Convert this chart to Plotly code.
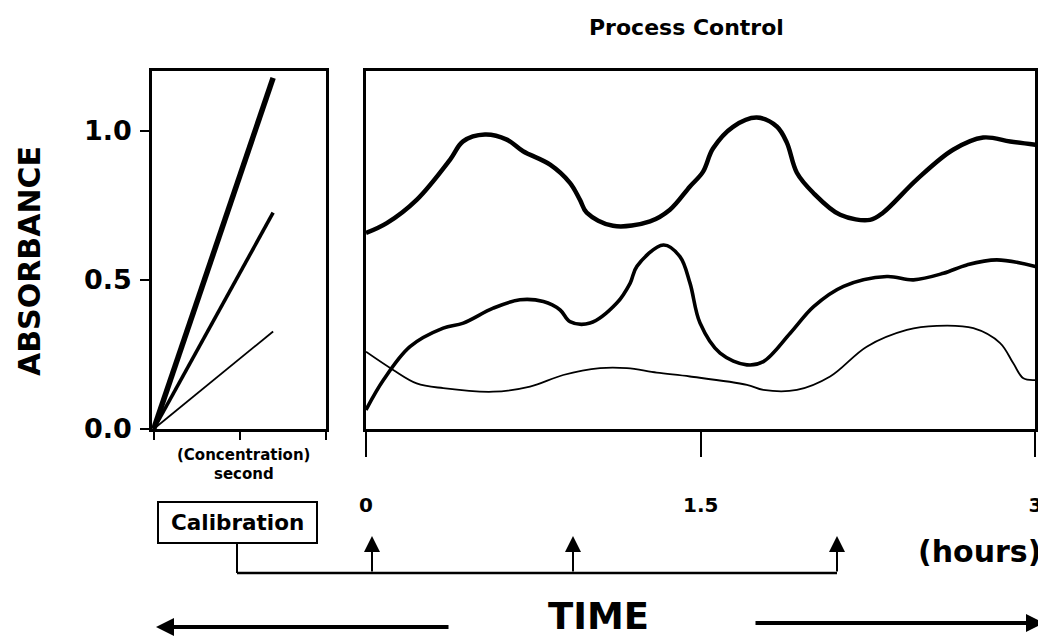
import plotly.graph_objects as go

# the page body adds an 8px margin, so the figure is drawn 8px smaller and
# every screen pixel position below is shifted by that offset
OFF = 8
W, H = 1046 - OFF, 639 - OFF

# ---------------- data ----------------
# Calibration panel (left): three straight calibration lines from the origin
calib_x = [0.0, 1.386]
calib_high = [0.0, 1.177]
calib_mid = [0.0, 0.725]
calib_low = [0.0, 0.327]
calib_xticks = [0, 1, 2]
abs_ticks = [0.0, 0.5, 1.0]
abs_ticktext = ["0.0", "0.5", "1.0"]

# Process control panel (right): hours vs absorbance
top_x = [0.0, 0.093, 0.227, 0.377, 0.435, 0.533, 0.631, 0.704, 0.825, 0.914, 0.959, 0.989,
         1.107, 1.273, 1.362, 1.452, 1.510, 1.555, 1.645, 1.751, 1.841, 1.886, 1.931, 2.004,
         2.125, 2.259, 2.317, 2.468, 2.631, 2.766, 2.887, 3.0]
top_y = [0.657, 0.690, 0.768, 0.903, 0.964, 0.987, 0.970, 0.931, 0.886, 0.825, 0.768, 0.725,
         0.681, 0.696, 0.735, 0.813, 0.862, 0.940, 1.013, 1.044, 1.014, 0.960, 0.859, 0.792,
         0.718, 0.701, 0.725, 0.836, 0.936, 0.977, 0.964, 0.953]

mid_x = [0.0, 0.078, 0.197, 0.346, 0.436, 0.570, 0.690, 0.795, 0.870, 0.914, 1.004, 1.124,
         1.184, 1.214, 1.333, 1.407, 1.452, 1.497, 1.587, 1.707, 1.781, 1.901, 2.006, 2.140,
         2.334, 2.454, 2.588, 2.693, 2.827, 3.0]
mid_y = [0.064, 0.164, 0.276, 0.338, 0.355, 0.405, 0.433, 0.427, 0.399, 0.360, 0.355, 0.422,
         0.489, 0.545, 0.617, 0.578, 0.489, 0.355, 0.254, 0.215, 0.226, 0.321, 0.410, 0.478,
         0.511, 0.500, 0.522, 0.550, 0.567, 0.545]

low_x = [0.0, 0.122, 0.227, 0.346, 0.570, 0.735, 0.884, 1.049, 1.169, 1.303, 1.452, 1.707,
         1.781, 1.931, 2.080, 2.244, 2.424, 2.558, 2.722, 2.842, 2.901, 2.946, 3.0]
low_y = [0.259, 0.198, 0.153, 0.137, 0.125, 0.142, 0.181, 0.204, 0.204, 0.189, 0.176, 0.148,
         0.131, 0.131, 0.176, 0.276, 0.332, 0.346, 0.338, 0.288, 0.220, 0.170, 0.164]

hour_ticks = [0, 1.5, 3]
hour_ticktext = ["0", "1.5", "3"]

# ---------------- helpers (screen pixel -> paper) ----------------
def fx(px):
    return (px - OFF) / W


def fy(py):
    return 1 - (py - OFF) / H


FONT = "DejaVu Sans"
BLACK = "black"

fig = go.Figure()

# left calibration lines
for yy, w in [(calib_high, 5.5), (calib_mid, 3.6), (calib_low, 1.8)]:
    fig.add_trace(go.Scatter(x=calib_x, y=yy, mode="lines", xaxis="x", yaxis="y",
                             line=dict(color=BLACK, width=w), showlegend=False,
                             hoverinfo="skip"))

# right process curves
for xx, yy, w in [(top_x, top_y, 4.5), (mid_x, mid_y, 3.6), (low_x, low_y, 1.8)]:
    fig.add_trace(go.Scatter(x=xx, y=yy, mode="lines", xaxis="x2", yaxis="y2",
                             line=dict(color=BLACK, width=w, shape="spline", smoothing=1.0),
                             showlegend=False, hoverinfo="skip"))

ydom = [fy(429), fy(71)]

fig.update_layout(
    width=W, height=H,
    margin=dict(l=0, r=0, t=0, b=0, pad=0, autoexpand=False),
    paper_bgcolor="white", plot_bgcolor="white",
    showlegend=False,
    xaxis=dict(domain=[fx(152), fx(326)], range=[-0.02, 2.0], tickvals=calib_xticks,
               showticklabels=False, ticks="outside", ticklen=8, tickwidth=2, tickcolor=BLACK,
               showline=True, linewidth=2.5, linecolor=BLACK, mirror=True, automargin=False,
               showgrid=False, zeroline=False, fixedrange=True),
    yaxis=dict(domain=ydom, range=[0, 1.2], tickvals=abs_ticks, ticktext=abs_ticktext,
               ticks="outside", ticklen=9, tickwidth=2, tickcolor=BLACK,
               tickfont=dict(family=FONT, size=27, color=BLACK, weight="bold"),
               ticklabelstandoff=3, automargin=False,
               showline=True, linewidth=2.5, linecolor=BLACK, mirror=True,
               showgrid=False, zeroline=False, fixedrange=True),
    xaxis2=dict(domain=[fx(366), fx(1035.4)], range=[0, 3], anchor="y2",
                tickvals=hour_ticks, ticktext=hour_ticktext,
                ticks="outside", ticklen=25, tickwidth=2, tickcolor=BLACK,
                tickfont=dict(family=FONT, size=20, color=BLACK, weight="bold"),
                ticklabelstandoff=31, automargin=False,
                showline=True, linewidth=2.5, linecolor=BLACK, mirror=True,
                showgrid=False, zeroline=False, fixedrange=True),
    yaxis2=dict(domain=ydom, range=[0, 1.2], anchor="x2", showticklabels=False, ticks="",
                showline=True, linewidth=2.5, linecolor=BLACK, mirror=True, automargin=False,
                showgrid=False, zeroline=False, fixedrange=True),
)

def txt(text, px, py, size, angle=0):
    fig.add_annotation(text=text, x=fx(px), y=fy(py), xref="paper", yref="paper",
                       xanchor="center", yanchor="middle", showarrow=False, textangle=angle,
                       font=dict(family=FONT, size=size, color=BLACK, weight="bold"))

txt("Process Control", 686, 27, 22)
txt("ABSORBANCE", 30, 261, 30, angle=-90)
txt("(Concentration)", 243.5, 455, 15)
txt("second", 244, 474, 15)
txt("Calibration", 237.5, 522, 21.5)
txt("(hours)", 979, 551, 30)
txt("TIME", 598, 616, 37)

# calibration box and connector lines
def line(x0, y0, x1, y1, w=2.5):
    fig.add_shape(type="line", xref="paper", yref="paper", x0=fx(x0), y0=fy(y0),
                  x1=fx(x1), y1=fy(y1), line=dict(color=BLACK, width=w))

fig.add_shape(type="rect", xref="paper", yref="paper", x0=fx(158), y0=fy(543),
              x1=fx(317), y1=fy(502), line=dict(color=BLACK, width=2))
line(237, 543, 237, 573, 2)
line(237, 573, 837, 573, 2.5)

def arrow(tipx, tipy, tailx, taily, w, size):
    fig.add_annotation(text="", x=fx(tipx), y=fy(tipy), xref="paper", yref="paper",
                       ax=tailx - tipx, ay=taily - tipy, axref="pixel", ayref="pixel",
                       showarrow=True, arrowhead=2, arrowsize=size, arrowwidth=w,
                       arrowcolor=BLACK, standoff=0)

for ax_px in [372, 573, 837]:
    arrow(ax_px, 536, ax_px, 573, 2, 1.6)

arrow(156, 627, 450, 627, 4, 0.9)
arrow(1044, 623, 754, 623, 4, 0.9)

fig.write_html("out.html")
